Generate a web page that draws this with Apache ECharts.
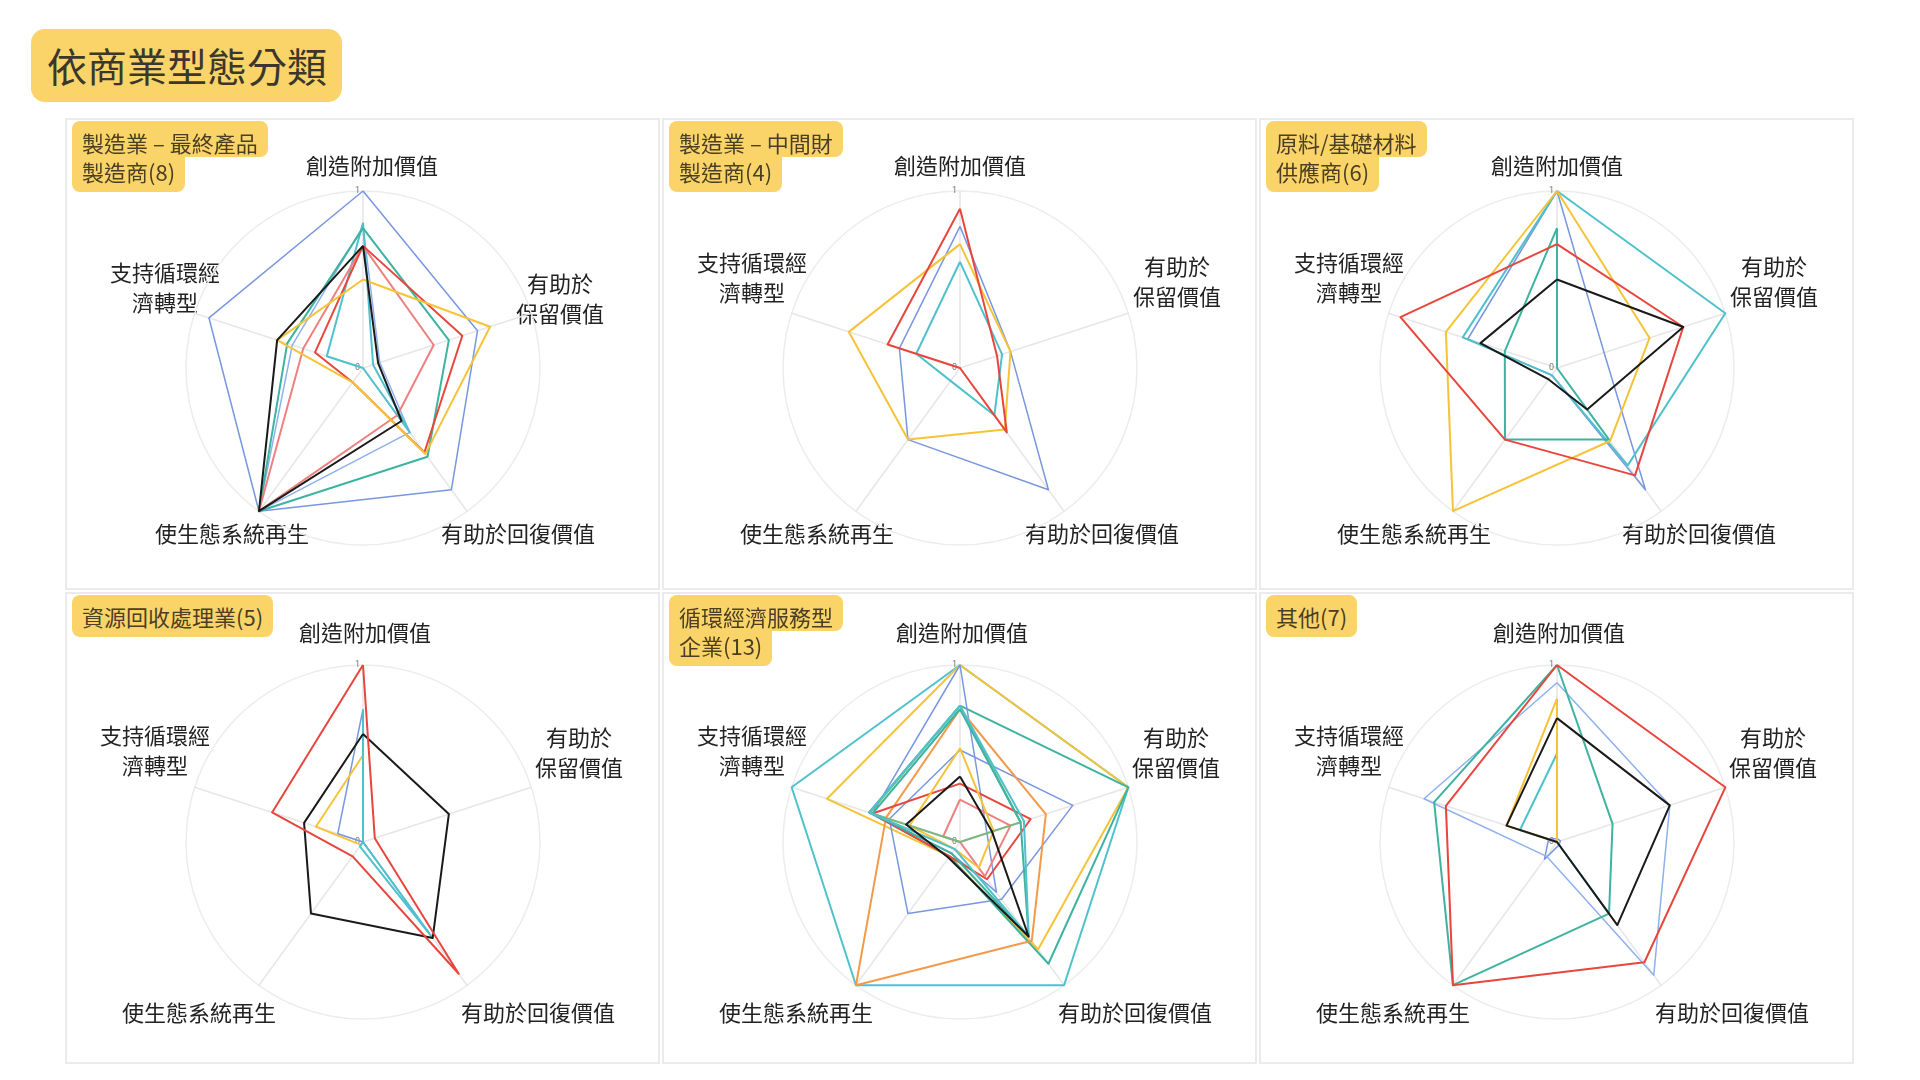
<!DOCTYPE html>
<html lang="zh-Hant">
<head>
<meta charset="utf-8">
<title>依商業型態分類</title>
<script src="https://cdn.jsdelivr.net/npm/echarts@6/dist/echarts.min.js"></script>
<style>
  html, body { margin: 0; padding: 0; background: #fff; }
  body {
    width: 1920px; height: 1080px; position: relative; overflow: hidden;
    font-family: "Noto Sans CJK TC", "Noto Sans CJK SC", sans-serif;
  }
  #title {
    position: absolute; left: 31px; top: 29px; width: 311px; height: 73px;
    box-sizing: border-box; padding-left: 16px;
    background: #fad468; border-radius: 14px;
    color: #3b372b; font-size: 40px; line-height: 73px;
  }
  .panel {
    position: absolute; width: 595px; height: 472px;
    box-sizing: border-box; border: 2px solid #ebebeb;
  }
  .chart { position: absolute; left: 0; top: 0; width: 591px; height: 468px; }
  .badge {
    position: absolute; left: 5px; top: 1px; z-index: 2;
    color: #4a3f22; font-size: 22px; line-height: 29px;
  }
  .badge div { display: table; background: #fad468; padding: 0 10px; border-radius: 8px; }
  .badge div:first-child { padding-top: 7px; }
  .badge div:last-child { padding-bottom: 6px; }
  .badge.two div:first-child { border-radius: 8px 8px 8px 0; }
  .badge.two div:last-child { border-radius: 0 0 8px 8px; }
</style>
</head>
<body>
<div id="title">依商業型態分類</div>
<div id="panels"></div>
<script>
// indicator order follows ECharts radar (counter-clockwise from the top)
const indicatorNames = ['創造附加價值', '支持循環經濟轉型', '使生態系統再生', '有助於回復價值', '有助於保留價值'];
const indicatorLabels = ['創造附加價值', '支持循環經\n濟轉型', '使生態系統再生', '有助於回復價值', '有助於\n保留價值'];

const panelTitles = [
  ['製造業 – 最終產品', '製造商(8)'],
  ['製造業 – 中間財', '製造商(4)'],
  ['原料/基礎材料', '供應商(6)'],
  ['資源回收處理業(5)'],
  ['循環經濟服務型', '企業(13)'],
  ['其他(7)']
];

const C = {
  blue: '#7897e0', lightBlue: '#8fb0ee', cyan: '#4fc1cc', teal: '#3db3a0',
  green: '#7cb77f', red: '#e8453c', salmon: '#ee8080', orange: '#f39a4a',
  yellow: '#f6c338', black: '#1a1a1a'
};

// 製造業 – 最終產品製造商
const finalMakers = [
  [1.0, 0.915, 1.0, 0.85, 0.68],
  [0.8, 0.42, 1.0, 0.45, 0.1],
  [0.82, 0.215, 0.0, 0.45, 0.06],
  [0.79, 0.45, 1.0, 0.62, 0.51],
  [0.69, 0.355, 1.0, 0.33, 0.42],
  [0.69, 0.285, 0.1, 0.59, 0.59],
  [0.5, 0.51, 0.1, 0.6, 0.755],
  [0.69, 0.51, 1.0, 0.37, 0.09]
];
const finalMakerColors = [C.blue, C.lightBlue, C.cyan, C.teal, C.salmon, C.red, C.yellow, C.black];

// 製造業 – 中間財製造商
const midMakers = [
  [0.8, 0.36, 0.5, 0.85, 0.3],
  [0.6, 0.26, 0.09, 0.33, 0.25],
  [0.7, 0.66, 0.5, 0.43, 0.3],
  [0.9, 0.43, 0.0, 0.45, 0.22]
];
const midMakerColors = [C.blue, C.cyan, C.yellow, C.red];

// 原料/基礎材料供應商
const materials = [
  [1.0, 0.53, 0.05, 0.85, 0.28],
  [1.0, 0.56, 0.05, 0.68, 1.0],
  [0.79, 0.31, 0.5, 0.5, 0.0],
  [1.0, 0.66, 1.0, 0.51, 0.55],
  [0.7, 0.93, 0.5, 0.75, 0.75],
  [0.5, 0.455, 0.08, 0.29, 0.75]
];
const materialColors = [C.blue, C.cyan, C.teal, C.yellow, C.red, C.black];

// 資源回收處理業
const recycling = [
  [0.75, 0.15, 0.0, 0.52, 0.0],
  [0.49, 0.28, 0.02, 0.0, 0.0],
  [0.75, 0.0, 0.03, 0.66, 0.0],
  [0.61, 0.35, 0.5, 0.67, 0.51],
  [1.0, 0.54, 0.1, 0.92, 0.07]
];
const recyclingColors = [C.blue, C.yellow, C.cyan, C.black, C.red];

// 循環經濟服務型企業
const services = [
  [1.0, 1.0, 1.0, 1.0, 1.0],
  [1.0, 0.79, 0.1, 0.75, 1.0],
  [0.77, 0.54, 0.1, 0.85, 1.0],
  [1.0, 0.52, 0.08, 0.35, 0.16],
  [0.52, 0.42, 0.5, 0.4, 0.67],
  [0.75, 0.44, 1.0, 0.69, 0.51],
  [0.33, 0.52, 0.1, 0.26, 0.42],
  [0.24, 0.1, 0.0, 0.24, 0.3],
  [0.53, 0.3, 0.05, 0.18, 0.2],
  [0.77, 0.535, 0.0, 0.0, 0.36],
  [0.75, 0.52, 0.08, 0.66, 0.36],
  [0.77, 0.54, 0.05, 0.66, 0.38],
  [0.37, 0.32, 0.11, 0.66, 0.19]
];
const serviceColors = [C.cyan, C.yellow, C.teal, C.blue, C.blue, C.orange, C.red,
  C.salmon, C.yellow, C.green, C.teal, C.cyan, C.black];

// 其他
const others = [
  [0.02, 0.05, 0.12, 0.02, 0.02],
  [0.5, 0.22, 0.0, 0.5, 0.0],
  [0.81, 0.3, 0.0, 0.0, 0.0],
  [0.9, 0.79, 0.1, 0.93, 0.67],
  [1.0, 0.73, 1.0, 0.5, 0.33],
  [1.0, 0.66, 1.0, 0.84, 1.0],
  [0.7, 0.3, 0.0, 0.58, 0.67]
];
const otherColors = [C.blue, C.cyan, C.yellow, C.lightBlue, C.teal, C.red, C.black];

const panelValues = [finalMakers, midMakers, materials, recycling, services, others];
const panelColors = [finalMakerColors, midMakerColors, materialColors, recyclingColors, serviceColors, otherColors];

// name positions around each radar, relative to its centre
const labelsRow1a = [[9, -202], [-198, -80], [-131, 166], [155, 166], [197, -69]];
const labelsRow1 = [[0, -202], [-208, -90], [-143, 166], [142, 166], [217, -86]];
const labelsRow2 = [[2, -209], [-208, -91], [-164, 171], [175, 171], [216, -89]];
const panelLabelPos = [labelsRow1a, labelsRow1, labelsRow1, labelsRow2, labelsRow2, labelsRow2];

const colX = [65, 662, 1259];
const rowY = [118, 592];
const cx = 296, cy = 248, R = 177;

const holder = document.getElementById('panels');

panelTitles.forEach((title, p) => {
  const panel = document.createElement('div');
  panel.className = 'panel';
  panel.style.left = colX[p % 3] + 'px';
  panel.style.top = rowY[Math.floor(p / 3)] + 'px';

  const badge = document.createElement('div');
  badge.className = 'badge' + (title.length > 1 ? ' two' : '');
  title.forEach(line => {
    const d = document.createElement('div');
    d.textContent = line;
    badge.appendChild(d);
  });
  panel.appendChild(badge);

  const box = document.createElement('div');
  box.className = 'chart';
  panel.appendChild(box);
  holder.appendChild(panel);

  const chart = echarts.init(box, null, { renderer: 'canvas' });
  chart.setOption({
    animation: false,
    radar: {
      center: [cx, cy],
      radius: R,
      startAngle: 90,
      shape: 'circle',
      splitNumber: 1,
      indicator: indicatorNames.map((n, i) => ({
        name: n, min: 0, max: 1,
        axisLabel: { show: i === 0 }
      })),
      axisName: { show: false },
      axisLine: { lineStyle: { color: '#e6e6e6', width: 1.5 } },
      splitLine: { lineStyle: { color: '#ececec', width: 1.5 } },
      splitArea: { show: false },
      axisTick: { show: false },
      axisLabel: { show: false, fontSize: 9, color: '#777', margin: 3, fontFamily: 'Roboto' }
    },
    graphic: panelLabelPos[p].map((o, i) => ({
      type: 'text',
      x: cx + o[0],
      y: cy + o[1],
      silent: true,
      style: {
        text: indicatorLabels[i],
        font: '22px "Noto Sans CJK TC"',
        fill: '#222',
        align: 'center',
        verticalAlign: 'middle',
        textAlign: 'center',
        textVerticalAlign: 'middle',
        lineHeight: 30
      }
    })),
    series: [{
      type: 'radar',
      symbol: 'none',
      silent: true,
      data: panelValues[p].map((v, k) => ({
        value: v,
        lineStyle: {
          color: panelColors[p][k],
          width: panelColors[p][k] === C.blue || panelColors[p][k] === C.lightBlue ? 1.5 : 2
        },
        itemStyle: { color: panelColors[p][k] }
      }))
    }]
  });
});
</script>
</body>
</html>
